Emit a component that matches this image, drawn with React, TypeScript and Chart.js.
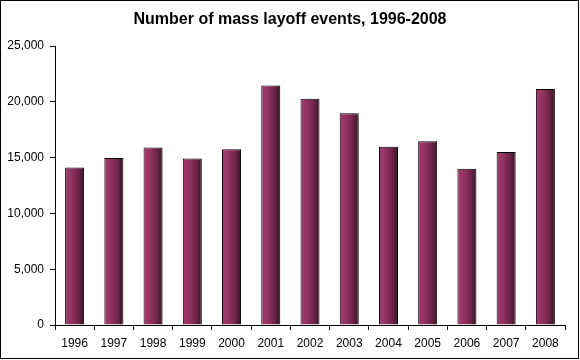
import React, { useEffect, useRef } from "react";
import { Chart, registerables } from "chart.js";

Chart.register(...registerables);

const TITLE = "Number of mass layoff events, 1996-2008";
const years = ["1996", "1997", "1998", "1999", "2000", "2001", "2002", "2003", "2004", "2005", "2006", "2007", "2008"];
const events = [14111, 14960, 15904, 14909, 15738, 21467, 20277, 18963, 15980, 16466, 13998, 15493, 21137];
const yMax = 25000;
const yStep = 5000;

const FONT = "'Liberation Sans', Arial, sans-serif";
const BAR_PCT = 0.485;

const framePlugin = {
  id: "frame",
  afterDraw(chart: any) {
    const ctx = chart.ctx;
    ctx.save();
    ctx.strokeStyle = "#000";
    ctx.lineWidth = 1;
    ctx.strokeRect(0.5, 0.5, 578, 358);
    ctx.fillStyle = "#000";
    ctx.font = `bold 16px ${FONT}`;
    ctx.textAlign = "center";
    ctx.textBaseline = "middle";
    ctx.fillText(TITLE, 290, 20);
    ctx.restore();
  },
};

export default function App() {
  const ref = useRef<HTMLCanvasElement>(null);
  useEffect(() => {
    document.body.style.margin = "0";
    const canvas = ref.current!;
    const chart = new Chart(canvas, {
      type: "bar",
      data: {
        labels: years,
        datasets: [
          {
            data: events,
            borderColor: "#000",
            borderWidth: 1,
            barPercentage: BAR_PCT,
            categoryPercentage: 1,
            backgroundColor: (c: any) => {
              const ch = c.chart;
              const xs = ch.scales?.x;
              if (!xs || c.dataIndex === undefined) return "#8f3060";
              const cx = xs.getPixelForValue(c.dataIndex);
              const w = (xs.width / years.length) * BAR_PCT;
              if (!isFinite(cx) || !isFinite(w) || w <= 0) return "#8f3060";
              const g = ch.ctx.createLinearGradient(cx - w / 2, 0, cx + w / 2, 0);
              g.addColorStop(0, "#a23c6e");
              g.addColorStop(0.35, "#923262");
              g.addColorStop(0.7, "#6e2448");
              g.addColorStop(1, "#361425");
              return g;
            },
          },
        ],
      },
      options: {
        responsive: false,
        animation: false,
        layout: { padding: { top: 46, left: 0, right: 15, bottom: 0 } },
        plugins: { legend: { display: false }, title: { display: false }, tooltip: { enabled: false } },
        scales: {
          x: {
            grid: { display: true, drawOnChartArea: false, drawTicks: true, tickLength: 5, color: "#000", offset: true },
            border: { display: true, color: "#000", width: 1 },
            ticks: { color: "#000", font: { family: FONT, size: 12 }, padding: 6, maxRotation: 0 },
            afterFit: (s: any) => {
              s.height = 35;
            },
          },
          y: {
            min: 0,
            max: yMax,
            grid: { display: true, drawOnChartArea: false, drawTicks: true, tickLength: 5, color: "#000" },
            border: { display: true, color: "#000", width: 1 },
            ticks: {
              stepSize: yStep,
              color: "#000",
              padding: 6,
              font: { family: FONT, size: 12 },
              callback: (v: any) => Number(v).toLocaleString("en-US"),
            },
            afterFit: (s: any) => {
              s.width = 55;
            },
          },
        },
      },
      plugins: [framePlugin],
    });
    return () => chart.destroy();
  }, []);
  return (
    <div style={{ position: "absolute", left: 0, top: 0, width: 580, height: 360, background: "#fff" }}>
      <canvas ref={ref} width={580} height={360} style={{ display: "block" }} />
    </div>
  );
}
